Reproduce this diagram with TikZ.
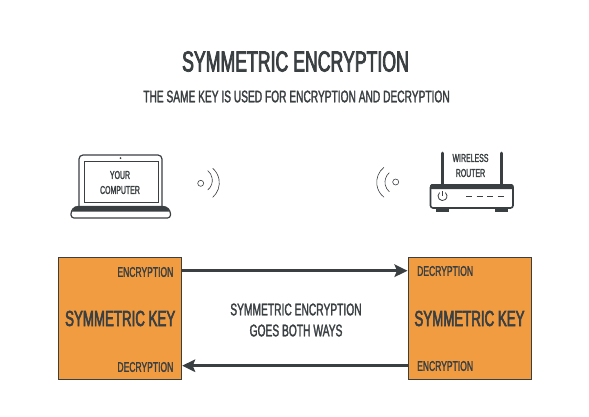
\documentclass[tikz,border=0pt]{standalone}
\usepackage{fontspec}
\setmainfont[FakeStretch=0.61,FakeBold=1.7]{Liberation Sans}
\newfontfamily\headfont[FakeStretch=0.61,FakeBold=2.6]{Liberation Sans}
\usetikzlibrary{arrows.meta,positioning}
\definecolor{Ink}{HTML}{3A3F42}
\definecolor{KeyOrange}{HTML}{F29C41}
\tikzset{keybox/.style={draw=Ink,fill=KeyOrange,line width=1pt,minimum width=123pt,minimum height=122.5pt,inner sep=0pt,align=center,text=Ink,font=\headfont\fontsize{21.8}{24}\selectfont},
modelabel/.style={text=Ink,inner sep=0pt,font=\fontsize{14}{16}\selectfont},
iconlabel/.style={text=Ink,inner sep=0pt,align=center,font=\fontsize{11.4}{15}\selectfont},
flow/.style={-{Stealth[length=13pt,width=12.5pt,inset=2.5pt]},line width=3pt,draw=Ink},
outline/.style={draw=Ink,line width=1.2pt},
wave/.style={draw=Ink,line width=.6pt}}
\begin{document}
\begin{tikzpicture}[x=1pt,y=-1pt]
        \useasboundingbox(0,0)rectangle(589,416);
        \node[text=Ink,font=\headfont\fontsize{29}{31}\selectfont](title)at(295.5,61.5){SYMMETRIC ENCRYPTION};
        \node[text=Ink,font=\fontsize{16.7}{18}\selectfont](subtitle)at(296.5,96.5){THE SAME KEY IS USED FOR ENCRYPTION AND DECRYPTION};
        % laptop
        \draw[outline,rounded corners=4pt](79,207)--(79,155)--(162,155)--(162,207);
        \draw[outline,line width=.9pt](84.7,161)rectangle(158,202.7);
        \fill[Ink](120.5,158)circle(1pt);
        \draw[outline,fill=white,rounded corners=3pt](71,211)--(71,218)--(170.5,218)--(170.5,211)--(166,206.5)--(75,206.5)--cycle;
        \fill[Ink](72,211.5)--(75,206.5)--(166,206.5)--(169.5,211.5)--cycle;
        \node[iconlabel](computer)at(120,182.5){YOUR\\COMPUTER};
        % signal left
        \draw[wave](200.7,183.3)circle(3pt);
        \draw[wave](207.7,190)arc[start angle=-51,end angle=51,radius=12.5pt];
        \draw[wave](212.7,197.3)arc[start angle=-49,end angle=49,radius=19.2pt];
        % signal right
        \draw[wave](395.7,182)circle(3pt);
        \draw[wave](389.3,172.7)arc[start angle=131,end angle=229,radius=12.6pt];
        \draw[wave](384,167.3)arc[start angle=128,end angle=232,radius=19pt];
        % router
        \draw[Ink,line width=3pt,line cap=round](442,153)--(442,184);
        \draw[Ink,line width=3pt,line cap=round](501,153)--(501,184);
        \draw[outline,line width=1.6pt,fill=white,rounded corners=2.5pt](430.5,185)rectangle(513,208);
        \fill[Ink,rounded corners=1.5pt](430,184)rectangle(513.5,189);
        \fill[Ink](436,209)rectangle(448.5,212);
        \fill[Ink](495,209)rectangle(507.5,212);
        \draw[Ink,line width=.8pt](439.6,192.6)arc[start angle=130,end angle=410,radius=4.5pt];
        \draw[Ink,line width=.8pt](442.5,191)--(442.5,196);
        \draw[Ink,line width=.8pt,dash pattern=on 6pt off 4.5pt](466,196)--(505,196);
        \node[iconlabel](router)at(470.5,165.5){WIRELESS\\ROUTER};
        % keys
        \node[keybox](keyleft)at(120.2,318.5){SYMMETRIC KEY};
        \node[keybox](keyright)at(469.5,318.5){SYMMETRIC KEY};
        \node[modelabel,anchor=east](encleft)at(173.5,272){ENCRYPTION};
        \node[modelabel,anchor=east](decleft)at(173.5,367){DECRYPTION};
        \node[modelabel,anchor=west](decright)at(417,271){DECRYPTION};
        \node[modelabel,anchor=west](encright)at(417,366){ENCRYPTION};
        \coordinate(topflow)at(300,270.7);
        \coordinate(lowflow)at(300,365.7);
        \draw[flow](keyleft.east|-topflow)--(keyright.west|-topflow);
        \draw[flow](keyright.west|-lowflow)--(keyleft.east|-lowflow);
        \node[text=Ink,align=center,font=\fontsize{16.8}{21}\selectfont](both)at(296,320){SYMMETRIC ENCRYPTION\\GOES BOTH WAYS};
      \end{tikzpicture}
\end{document}
